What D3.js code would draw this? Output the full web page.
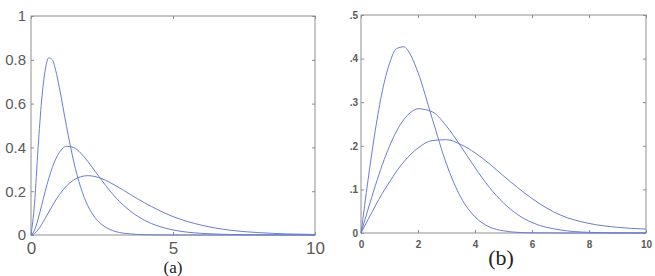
<!DOCTYPE html>
<html>
<head>
<meta charset="utf-8">
<script src="https://cdn.jsdelivr.net/npm/d3@7"></script>
<style>
  body { margin: 0; background: #fff; }
  .tick line { stroke: #8a8a8a; }
</style>
</head>
<body>
<div id="chart"></div>
<script>
// ---- panel (a) data ----
var xa = [0, 0.125, 0.25, 0.375, 0.5, 0.625, 0.75, 0.875, 1, 1.25, 1.5, 1.75, 2, 2.25, 2.5, 2.75, 3, 3.5, 4, 4.5, 5, 5.5, 6, 7, 8, 9, 10];
var a1 = [0, 0.145, 0.399, 0.616, 0.753, 0.809, 0.800, 0.749, 0.672, 0.496, 0.338, 0.217, 0.134, 0.080, 0.047, 0.027, 0.015, 0.005, 0.0013, 0.0004, 0.0001, 0, 0, 0, 0, 0, 0];
var a2 = [0, 0.022, 0.073, 0.135, 0.199, 0.258, 0.308, 0.348, 0.377, 0.405, 0.400, 0.374, 0.336, 0.292, 0.248, 0.206, 0.169, 0.109, 0.067, 0.040, 0.023, 0.013, 0.0075, 0.0023, 0.0007, 0.0002, 0];
var a3 = [0, 0.007, 0.024, 0.048, 0.076, 0.105, 0.133, 0.160, 0.184, 0.224, 0.251, 0.266, 0.271, 0.267, 0.257, 0.242, 0.224, 0.185, 0.147, 0.113, 0.084, 0.062, 0.045, 0.022, 0.011, 0.005, 0.0023];
var xaTicks = [0, 5, 10];
var yaTicks = [0, 0.2, 0.4, 0.6, 0.8, 1];
var yaLabels = ["0", "0.2", "0.4", "0.6", "0.8", "1"];

// ---- panel (b) data ----
var xb = [0, 0.25, 0.5, 0.75, 1, 1.25, 1.5, 1.75, 2, 2.5, 3, 3.5, 4, 4.5, 5, 5.5, 6, 7, 8, 9, 10];
var b1 = [0, 0.123, 0.235, 0.326, 0.389, 0.423, 0.427, 0.407, 0.368, 0.262, 0.158, 0.082, 0.037, 0.014, 0.005, 0.0014, 0.0004, 0, 0, 0, 0];
var b2 = [0, 0.055, 0.108, 0.157, 0.199, 0.234, 0.260, 0.277, 0.285, 0.278, 0.245, 0.199, 0.150, 0.105, 0.069, 0.042, 0.024, 0.007, 0.0015, 0.0003, 0];
var b3 = [0, 0.031, 0.062, 0.091, 0.117, 0.142, 0.163, 0.181, 0.195, 0.212, 0.214, 0.203, 0.184, 0.159, 0.131, 0.104, 0.079, 0.041, 0.022, 0.013, 0.009];
var xbTicks = [0, 2, 4, 6, 8, 10];
var ybTicks = [0, 0.1, 0.2, 0.3, 0.4, 0.5];
var ybLabels = ["0", ".1", ".2", ".3", ".4", ".5"];

var svg = d3.select("#chart").append("svg")
    .attr("width", 655)
    .attr("height", 276);

var lineColor = "#6a7dd0";
var boxColor = "#8f8f8f";
var textColor = "#5a5a5a";

function drawPanel(cfg) {
    var x = d3.scaleLinear().domain([0, 10]).range([cfg.left, cfg.right]);
    var y = d3.scaleLinear().domain([0, cfg.ymax]).range([cfg.bottom, cfg.top]);
    var g = svg.append("g");

    // inward ticks on all four sides, labels only bottom / left
    var bottom = g.append("g").attr("transform", "translate(0," + cfg.bottom + ")")
        .call(d3.axisBottom(x).tickValues(cfg.xTicks).tickSizeInner(-3).tickSizeOuter(0)
            .tickPadding(cfg.xPad).tickFormat(d3.format("d")));
    var left = g.append("g").attr("transform", "translate(" + cfg.left + ",0)")
        .call(d3.axisLeft(y).tickValues(cfg.yTicks).tickSizeInner(-3).tickSizeOuter(0)
            .tickPadding(cfg.yPad).tickFormat(function(d, i) { return cfg.yLabels[i]; }));
    g.append("g").attr("transform", "translate(0," + cfg.top + ")")
        .call(d3.axisTop(x).tickValues(cfg.xTicks).tickSizeInner(-3).tickSizeOuter(0).tickFormat(""));
    g.append("g").attr("transform", "translate(" + cfg.right + ",0)")
        .call(d3.axisRight(y).tickValues(cfg.yTicks).tickSizeInner(-3).tickSizeOuter(0).tickFormat(""));
    g.selectAll(".domain").remove();

    [bottom, left].forEach(function(ax) {
        ax.selectAll("text")
            .attr("fill", textColor)
            .style("font-family", "Liberation Sans, Arial, sans-serif")
            .style("font-weight", cfg.bold ? "bold" : "normal");
    });
    bottom.selectAll("text").style("font-size", cfg.xFont + "px");
    left.selectAll("text").style("font-size", cfg.yFont + "px");

    // frame
    g.append("rect")
        .attr("x", cfg.left).attr("y", cfg.top)
        .attr("width", cfg.right - cfg.left).attr("height", cfg.bottom - cfg.top)
        .attr("fill", "none").attr("stroke", boxColor).attr("stroke-width", 1);

    var line = d3.line()
        .x(function(d) { return x(d[0]); })
        .y(function(d) { return y(d[1]); })
        .curve(d3.curveMonotoneX);

    cfg.series.forEach(function(s) {
        g.append("path")
            .datum(cfg.xs.map(function(v, i) { return [v, s[i]]; }))
            .attr("d", line)
            .attr("fill", "none")
            .attr("stroke", lineColor)
            .attr("stroke-width", 1);
    });

    // caption under panel
    g.append("text")
        .attr("x", cfg.capX).attr("y", cfg.capY)
        .attr("text-anchor", "middle")
        .attr("fill", "#222")
        .style("font-family", "Liberation Serif, Times New Roman, serif")
        .style("font-size", cfg.capFont + "px")
        .text(cfg.caption);
}

drawPanel({
    left: 31, right: 315, top: 16, bottom: 235, ymax: 1,
    xs: xa, series: [a1, a2, a3],
    xTicks: xaTicks, yTicks: yaTicks, yLabels: yaLabels,
    xPad: 7, yPad: 5, xFont: 17, yFont: 15, bold: false,
    caption: "(a)", capX: 173, capY: 273, capFont: 17
});

drawPanel({
    left: 361, right: 646, top: 15, bottom: 233, ymax: 0.5,
    xs: xb, series: [b1, b2, b3],
    xTicks: xbTicks, yTicks: ybTicks, yLabels: ybLabels,
    xPad: 8, yPad: 3, xFont: 10, yFont: 10, bold: true,
    caption: "(b)", capX: 501, capY: 265, capFont: 22
});
</script>
</body>
</html>
